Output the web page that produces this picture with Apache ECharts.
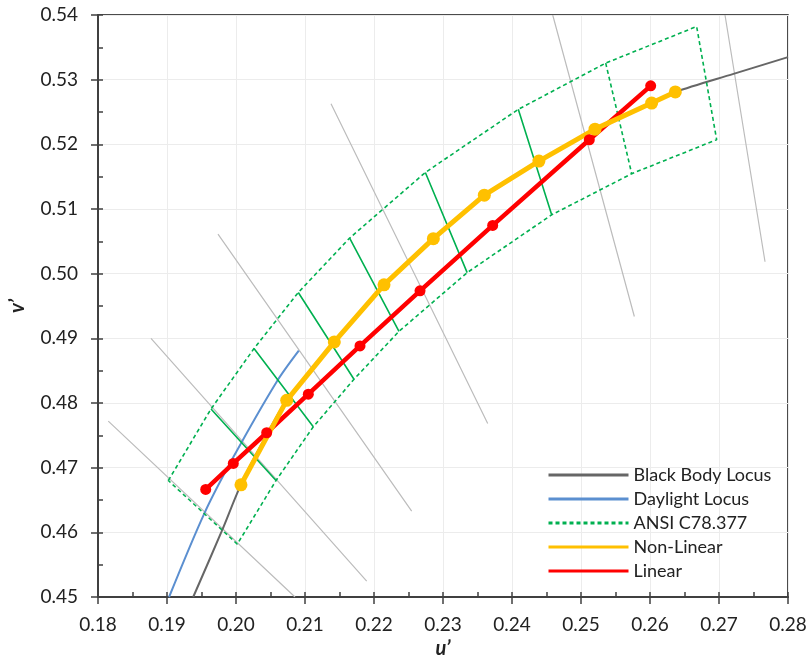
<!DOCTYPE html>
<html>
<head>
<meta charset="utf-8">
<script src="https://cdn.jsdelivr.net/npm/echarts@6/dist/echarts.min.js"></script>
<style>
  html, body { margin: 0; padding: 0; background: #fff; }
  #chart { width: 810px; height: 664px; }
</style>
</head>
<body>
<div id="chart"></div>
<script>
// u'v' points
var blackBodyLocus = [
    [0.1938, 0.4500], [0.1979, 0.4601], [0.2007, 0.46735], [0.2038, 0.4738],
    [0.20735, 0.48041], [0.21425, 0.48944], [0.22145, 0.49827], [0.2286, 0.50541],
    [0.23599, 0.51214], [0.2439, 0.51741], [0.25203, 0.52235], [0.26024, 0.52638],
    [0.26367, 0.5281], [0.2721, 0.5309], [0.2800, 0.53348]
];
var daylightLocus = [
    [0.1903, 0.4500], [0.1954, 0.4629], [0.1996, 0.4716], [0.2059, 0.4833], [0.2091, 0.4881]
];
var isoCctLines = [
    [[0.18149, 0.47720], [0.20855, 0.45000]],
    [[0.18768, 0.48999], [0.21894, 0.45245]],
    [[0.19739, 0.50612], [0.22546, 0.46328]],
    [[0.21377, 0.52628], [0.23648, 0.47684]],
    [[0.24590, 0.54000], [0.25773, 0.49338]],
    [[0.27087, 0.54000], [0.27667, 0.50184]]
];
var ansiUpper = [
    [0.19019, 0.46801], [0.19638, 0.47908], [0.20261, 0.48842], [0.20903, 0.49709],
    [0.21647, 0.50551], [0.22744, 0.51565], [0.24091, 0.52541], [0.25358, 0.53256],
    [0.26676, 0.53822]
];
var ansiLower = [
    [0.20019, 0.45818], [0.20580, 0.46801], [0.21120, 0.47632], [0.21710, 0.48367],
    [0.22362, 0.49108], [0.23350, 0.50016], [0.24575, 0.50910], [0.25735, 0.51546],
    [0.26966, 0.52072]
];
var nonLinear = [
    [0.20072, 0.46735], [0.20735, 0.48041], [0.21425, 0.48944], [0.22145, 0.49827],
    [0.22860, 0.50541], [0.23599, 0.51214], [0.24390, 0.51741], [0.25203, 0.52235],
    [0.26024, 0.52638], [0.26367, 0.52810]
];
var linear = [
    [0.19561, 0.46663], [0.19961, 0.47066], [0.20445, 0.47540], [0.21048, 0.48137],
    [0.21797, 0.48883], [0.22667, 0.49735], [0.23720, 0.50746], [0.25120, 0.52071],
    [0.26010, 0.52904]
];

var FONT = 'Lato';

// segments joined with '-' so one series draws separate lines
function segments(list) {
    var out = [];
    list.forEach(function (seg, i) {
        if (i > 0) out.push('-');
        seg.forEach(function (p) { out.push(p); });
    });
    return out;
}

var outline = ansiUpper.concat(ansiLower.slice().reverse());
outline.push(ansiUpper[0]);

var solidDividers = [];
for (var i = 1; i < ansiUpper.length - 2; i++) {
    solidDividers.push([ansiUpper[i], ansiLower[i]]);
}
var n = ansiUpper.length;
var dashedDivider = [[ansiUpper[n - 2], ansiLower[n - 2]]];

var chart = echarts.init(document.getElementById('chart'));

var valueAxisX = {
    type: 'value', min: 0.18, max: 0.28, interval: 0.01,
    name: 'u\u2019', nameLocation: 'middle', nameGap: 42,
    nameTextStyle: { fontFamily: FONT, fontSize: 20, fontWeight: 'bold', fontStyle: 'italic', color: '#222' },
    axisLine: { lineStyle: { color: '#404040', width: 2 } },
    axisTick: { length: 7, lineStyle: { color: '#404040', width: 1.5 } },
    axisLabel: { margin: 18, fontFamily: FONT, fontSize: 19, color: '#222',
        formatter: function (v) { return v.toFixed(2); } },
    splitLine: { lineStyle: { color: '#ececec', width: 1 } }
};
var valueAxisY = {
    type: 'value', min: 0.45, max: 0.54, interval: 0.01,
    name: 'v\u2019', nameLocation: 'middle', nameGap: 70, nameRotate: 90,
    nameTextStyle: { fontFamily: FONT, fontSize: 20, fontWeight: 'bold', fontStyle: 'italic', color: '#222' },
    axisLine: { lineStyle: { color: '#404040', width: 2 } },
    axisTick: { length: 7, lineStyle: { color: '#404040', width: 1.5 } },
    axisLabel: { margin: 20, fontFamily: FONT, fontSize: 19, color: '#222',
        formatter: function (v) { return v.toFixed(2); } },
    splitLine: { lineStyle: { color: '#ececec', width: 1 } }
};
// extra axes only for the inside minor ticks
var minorX = {
    type: 'value', min: 0.18, max: 0.28, interval: 0.005, position: 'bottom',
    axisLine: { show: false }, axisLabel: { show: false }, splitLine: { show: false },
    axisTick: { inside: true, length: 5, lineStyle: { color: '#404040', width: 1.5 } }
};
var minorY = {
    type: 'value', min: 0.45, max: 0.54, interval: 0.005, position: 'left',
    axisLine: { show: false }, axisLabel: { show: false }, splitLine: { show: false },
    axisTick: { inside: true, length: 5, lineStyle: { color: '#404040', width: 1.5 } }
};

var option = {
    animation: false,
    backgroundColor: '#fff',
    grid: { left: 98, right: 22, top: 15, bottom: 61, show: true, borderColor: '#111', borderWidth: 1.5 },
    xAxis: [valueAxisX, minorX],
    yAxis: [valueAxisY, minorY],
    legend: {
        data: ['Black Body Locus', 'Daylight Locus', 'ANSI C78.377', 'Non-Linear', 'Linear'],
        orient: 'vertical', left: 542, top: 460,
        itemWidth: 80, itemHeight: 4, itemGap: 4,
        itemStyle: { opacity: 0 },
        lineStyle: { width: 3 },
        textStyle: { fontFamily: FONT, fontSize: 18, color: '#222', lineHeight: 20, padding: [0, 0, 0, 0] }
    },
    series: [
        {
            name: 'iso', type: 'line', data: segments(isoCctLines), symbol: 'none',
            lineStyle: { color: '#bcbcbc', width: 1.2 }, silent: true
        },
        {
            name: 'Black Body Locus', type: 'line', data: blackBodyLocus, symbol: 'none', smooth: 0.3,
            lineStyle: { color: '#666666', width: 2 }, itemStyle: { color: '#858585' }
        },
        {
            name: 'Daylight Locus', type: 'line', data: daylightLocus, symbol: 'none', smooth: 0.3,
            lineStyle: { color: '#5b8fd0', width: 2 }, itemStyle: { color: '#5b8fd0' }
        },
        {
            name: 'ANSI C78.377', type: 'line', data: outline, symbol: 'none',
            lineStyle: { color: '#00b050', width: 1.6, type: [4, 3] }, itemStyle: { color: '#00b050' }
        },
        {
            name: 'ANSI C78.377', type: 'line', data: segments(solidDividers), symbol: 'none',
            lineStyle: { color: '#00b050', width: 1.6 }
        },
        {
            name: 'ANSI C78.377', type: 'line', data: segments(dashedDivider), symbol: 'none',
            lineStyle: { color: '#00b050', width: 1.6, type: [4, 3] }
        },
        {
            name: 'Linear', type: 'line', data: linear, symbol: 'circle', symbolSize: 11,
            lineStyle: { color: '#ff0000', width: 4.5 }, itemStyle: { color: '#ff0000' }
        },
        {
            name: 'Non-Linear', type: 'line', data: nonLinear, symbol: 'circle', symbolSize: 13,
            lineStyle: { color: '#ffc000', width: 5 }, itemStyle: { color: '#ffc000' }
        }
    ]
};

chart.setOption(option);
</script>
</body>
</html>
